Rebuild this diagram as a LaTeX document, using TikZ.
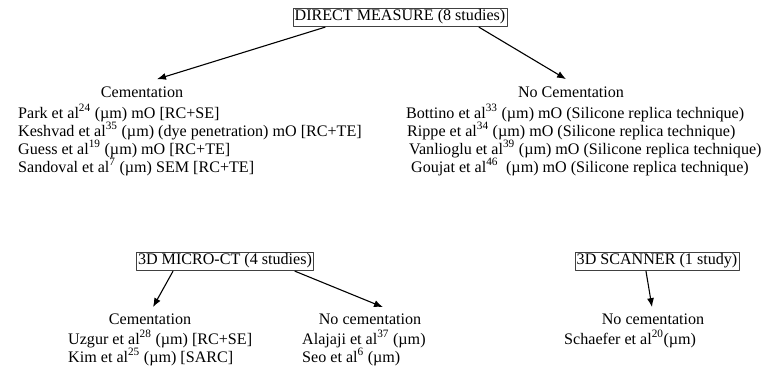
\documentclass[tikz,border=0pt]{standalone}
\usepackage{fontspec}
\setmainfont{Liberation Serif}
\usepackage{tikz}
\usetikzlibrary{arrows.meta}

\newcommand{\um}{(\textmu m)}
\newcommand{\rf}[1]{\textsuperscript{#1}}

\begin{document}
\begin{tikzpicture}[x=1pt, y=-1pt, line cap=round, line join=round,
    every node/.style={font=\fontsize{16.1}{19}\selectfont, inner sep=0pt},
    headbox/.style={draw=black!75, line width=0.6pt, inner sep=1.6pt},
    ln/.style={anchor=base west},
    hd/.style={anchor=base},
    arr/.style={-{Latex[length=9pt,width=7pt]}, line width=1.1pt}]
  \useasboundingbox (0,0) rectangle (768,373);
  % direct measure
  \node[headbox] (dm) at (400,17) {DIRECT MEASURE (8 studies)};
  \node[hd] (cemA) at (142,97) {Cementation};
  \node[ln] (park) at (18,118) {Park et al\rf{24} \um{} mO [RC+SE]};
  \node[ln] (kesh) at (18,136) {Keshvad et al\rf{35} \um{} (dye penetration) mO [RC+TE]};
  \node[ln] (guess) at (18,154) {Guess et al\rf{19} \um{} mO [RC+TE]};
  \node[ln] (sand) at (18,172) {Sandoval et al\rf{7} \um{} SEM [RC+TE]};
  \node[hd] (nocemA) at (571,97) {No Cementation};
  \node[ln] (bott) at (406,118) {Bottino et al\rf{33} \um{} mO (Silicone replica technique)};
  \node[ln] (rippe) at (407,136) {Rippe et al\rf{34} \um{} mO (Silicone replica technique)};
  \node[ln] (vanl) at (409,154) {Vanlioglu et al\rf{39} \um{} mO (Silicone replica technique)};
  \node[ln] (gouj) at (411,172) {Goujat et al\rf{46}\ \ \um{} mO (Silicone replica technique)};
  \draw[arr] ([xshift=-75pt,yshift=-1pt]dm.south) -- ([xshift=15pt,yshift=7pt]cemA.north);
  \draw[arr] ([xshift=79pt,yshift=-1pt]dm.south) -- ([xshift=-5pt,yshift=7pt]nocemA.north);
  % micro-ct
  \node[headbox] (mct) at (225,261) {3D MICRO-CT (4 studies)};
  \node[hd] (cemB) at (150,324) {Cementation};
  \node[ln] (uzg) at (68,344) {Uzgur et al\rf{28} \um{} [RC+SE]};
  \node[ln] (kim) at (68,362) {Kim et al\rf{25} \um{} [SARC]};
  \node[hd] (nocemB) at (370,324) {No cementation};
  \node[ln] (ala) at (302,344) {Alajaji et al\rf{37} \um};
  \node[ln] (seo) at (302,362) {Seo et al\rf{6} \um};
  \draw[arr] ([xshift=-52pt,yshift=-1pt]mct.south) -- ([xshift=3pt,yshift=6pt]cemB.north);
  \draw[arr] ([xshift=70pt,yshift=-1pt]mct.south) -- ([xshift=13pt,yshift=6pt]nocemB.north);
  % scanner
  \node[headbox] (scan) at (657,261) {3D SCANNER (1 study)};
  \node[hd] (nocemC) at (653,324) {No cementation};
  \node[ln] (schf) at (564,344) {Schaefer et al\rf{20}\um};
  \draw[arr] ([xshift=-11pt,yshift=-1pt]scan.south) -- ([xshift=-1pt,yshift=6pt]nocemC.north);
\end{tikzpicture}
\end{document}
